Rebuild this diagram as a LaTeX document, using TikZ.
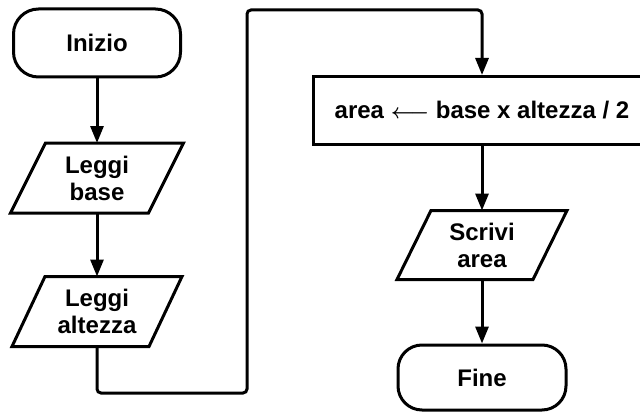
\documentclass[tikz,border=0pt]{standalone}
\usepackage{fontspec}
\setmainfont{Liberation Sans}
\usetikzlibrary{arrows.meta}
\newcommand\paradraw[2]{\draw ([xshift=#2]#1.north west) -- ([xshift=#2]#1.north east) -- ([xshift=-#2]#1.south east) -- ([xshift=-#2]#1.south west) -- cycle;}
\begin{document}
\begin{tikzpicture}[x=1pt,y=-1pt,
  line width=3pt,
  every node/.style={font=\fontsize{24}{27}\selectfont\bfseries, align=center, inner sep=0pt},
  terminal/.style={draw, rounded corners=25pt, minimum height=68pt},
  iobox/.style={minimum height=67pt},
  procbox/.style={draw, minimum height=68pt},
  arr/.style={-{Triangle[length=17pt,width=13pt]}}
]
\useasboundingbox (0,0) rectangle (640,412);
\clip (0,0) rectangle (640,412);
\node[terminal, minimum width=167pt] (inizio) at (97,43) {Inizio};
\node[iobox, minimum width=135pt] (lb) at (97,178) {Leggi\\base};
\paradraw{lb}{17.5pt}
\node[iobox, minimum width=134pt] (la) at (97,311.5) {Leggi\\altezza};
\paradraw{la}{16.5pt}
\node[procbox, minimum width=338pt] (calc) at (482,110.5) {area {\fontsize{21}{21}\selectfont\boldmath$\longleftarrow$} base x altezza / 2};
\node[iobox, minimum width=133pt, minimum height=66pt] (sa) at (482,245) {Scrivi\\area};
\paradraw{sa}{17pt}
\node[terminal, minimum width=168pt, minimum height=65pt, rounded corners=24pt] (fine) at (482,377.5) {Fine};
\draw[arr] (inizio) -- (lb.north);
\draw[arr] (lb.south) -- (la.north);
\draw[arr, rounded corners=4pt] (la.south) |- (247,393) -- (247,10) -| (calc.north);
\draw[arr] (calc) -- (sa.north);
\draw[arr] (sa.south) -- (fine);
\end{tikzpicture}
\end{document}
